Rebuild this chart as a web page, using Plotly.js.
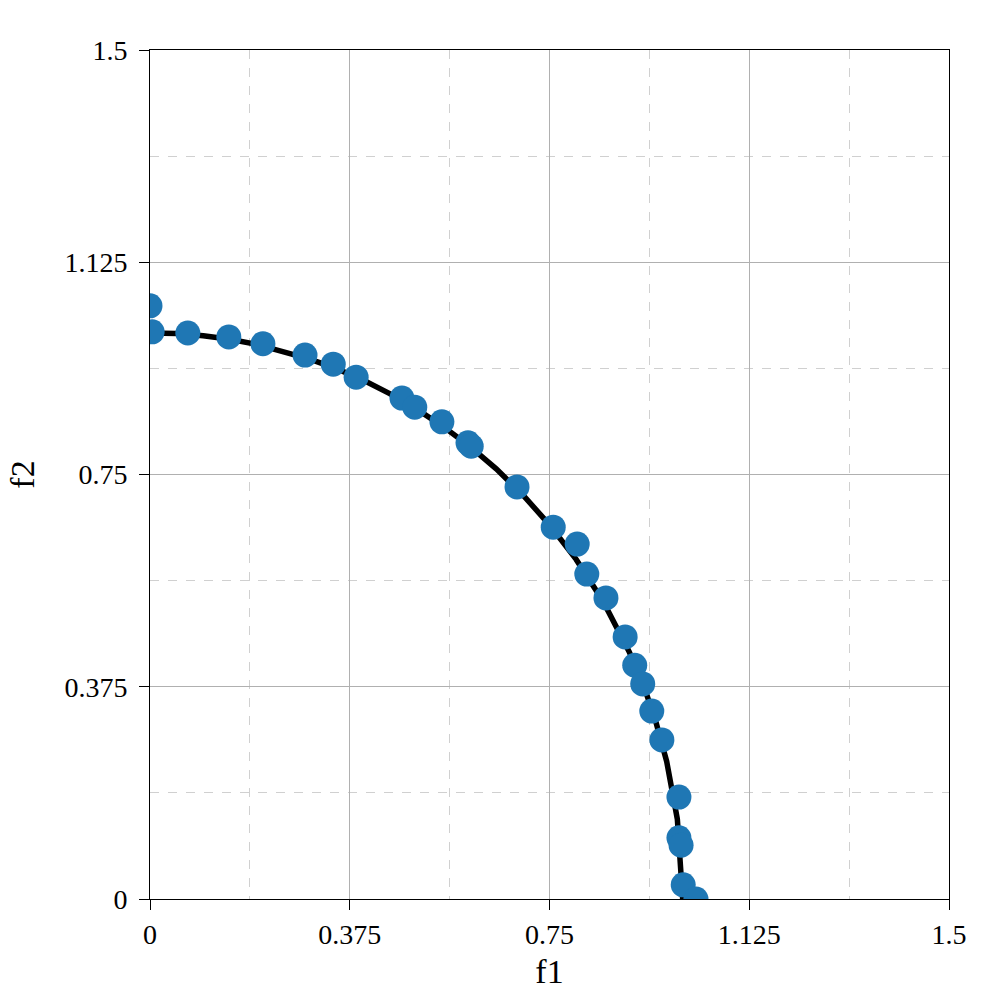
<!DOCTYPE html>
<html>
<head>
<meta charset="utf-8">
<script src="https://cdn.plot.ly/plotly-3.0.1.min.js"></script>
<style>html,body{margin:0;padding:0;background:#fff;}#chart{width:1000px;height:1000px;}</style>
</head>
<body>
<div id="chart"></div>
<script>
// Reference front (black curve)
const frontF1 = [0, 0.05, 0.1, 0.15, 0.2, 0.25, 0.3, 0.35, 0.4, 0.45, 0.5, 0.55, 0.6, 0.65, 0.7, 0.75, 0.8, 0.85, 0.9, 0.93, 0.95, 0.97, 0.99, 1.0];
const frontF2 = [1.0, 0.999, 0.995, 0.989, 0.98, 0.968, 0.954, 0.937, 0.917, 0.893, 0.866, 0.835, 0.8, 0.76, 0.714, 0.661, 0.6, 0.527, 0.436, 0.368, 0.312, 0.243, 0.141, 0];

// Obtained solutions (blue points)
const solF1 = [0.0, 0.004, 0.071, 0.148, 0.212, 0.291, 0.344, 0.387, 0.473, 0.497, 0.548, 0.597, 0.603, 0.689, 0.757, 0.802, 0.820, 0.856, 0.892, 0.910, 0.925, 0.942, 0.961, 0.993, 0.993, 0.997, 1.001, 1.025];
const solF2 = [1.048, 1.002, 1.000, 0.993, 0.981, 0.961, 0.945, 0.922, 0.885, 0.869, 0.843, 0.806, 0.800, 0.728, 0.657, 0.627, 0.574, 0.532, 0.463, 0.413, 0.380, 0.332, 0.281, 0.180, 0.108, 0.095, 0.025, 0.0];

const tickVals = [0, 0.375, 0.75, 1.125, 1.5];
const tickText = ["0", "0.375", "0.75", "1.125", "1.5"];

const font = "Liberation Serif";

const axisBase = {
  range: [0, 1.5],
  tickmode: 'array',
  tickvals: tickVals,
  ticktext: tickText,
  ticks: 'outside',
  ticklen: 10,
  tickwidth: 1,
  tickcolor: '#000',
  tickfont: {family: font, size: 28, color: '#000'},
  showline: true,
  mirror: true,
  linecolor: '#000',
  linewidth: 1,
  showgrid: true,
  gridcolor: '#b0b0b0',
  gridwidth: 1,
  zeroline: false,
  minor: {dtick: 0.1875, tick0: 0, showgrid: true, gridcolor: '#d0d0d0', griddash: 'dash', gridwidth: 1, ticks: ''}
};

const data = [
  {x: frontF1, y: frontF2, type: 'scatter', mode: 'lines', line: {color: '#000', width: 5.5}, hoverinfo: 'skip', showlegend: false},
  {x: solF1, y: solF2, type: 'scatter', mode: 'markers', marker: {color: '#1f77b4', size: 25, line: {width: 0}}, showlegend: false}
];

const layout = {
  width: 1000, height: 1000,
  margin: {l: 150, r: 51, t: 50, b: 101, pad: 0},
  paper_bgcolor: '#fff', plot_bgcolor: '#fff',
  showlegend: false,
  font: {family: font},
  xaxis: Object.assign({}, axisBase, {title: {text: 'f1', font: {family: font, size: 34, color: '#000'}, standoff: 10}}),
  yaxis: Object.assign({}, axisBase, {ticklabelstandoff: 6, title: {text: 'f2', font: {family: font, size: 34, color: '#000'}, standoff: 19}})
};

Plotly.newPlot('chart', data, layout, {displayModeBar: false, staticPlot: true});
</script>
</body>
</html>
